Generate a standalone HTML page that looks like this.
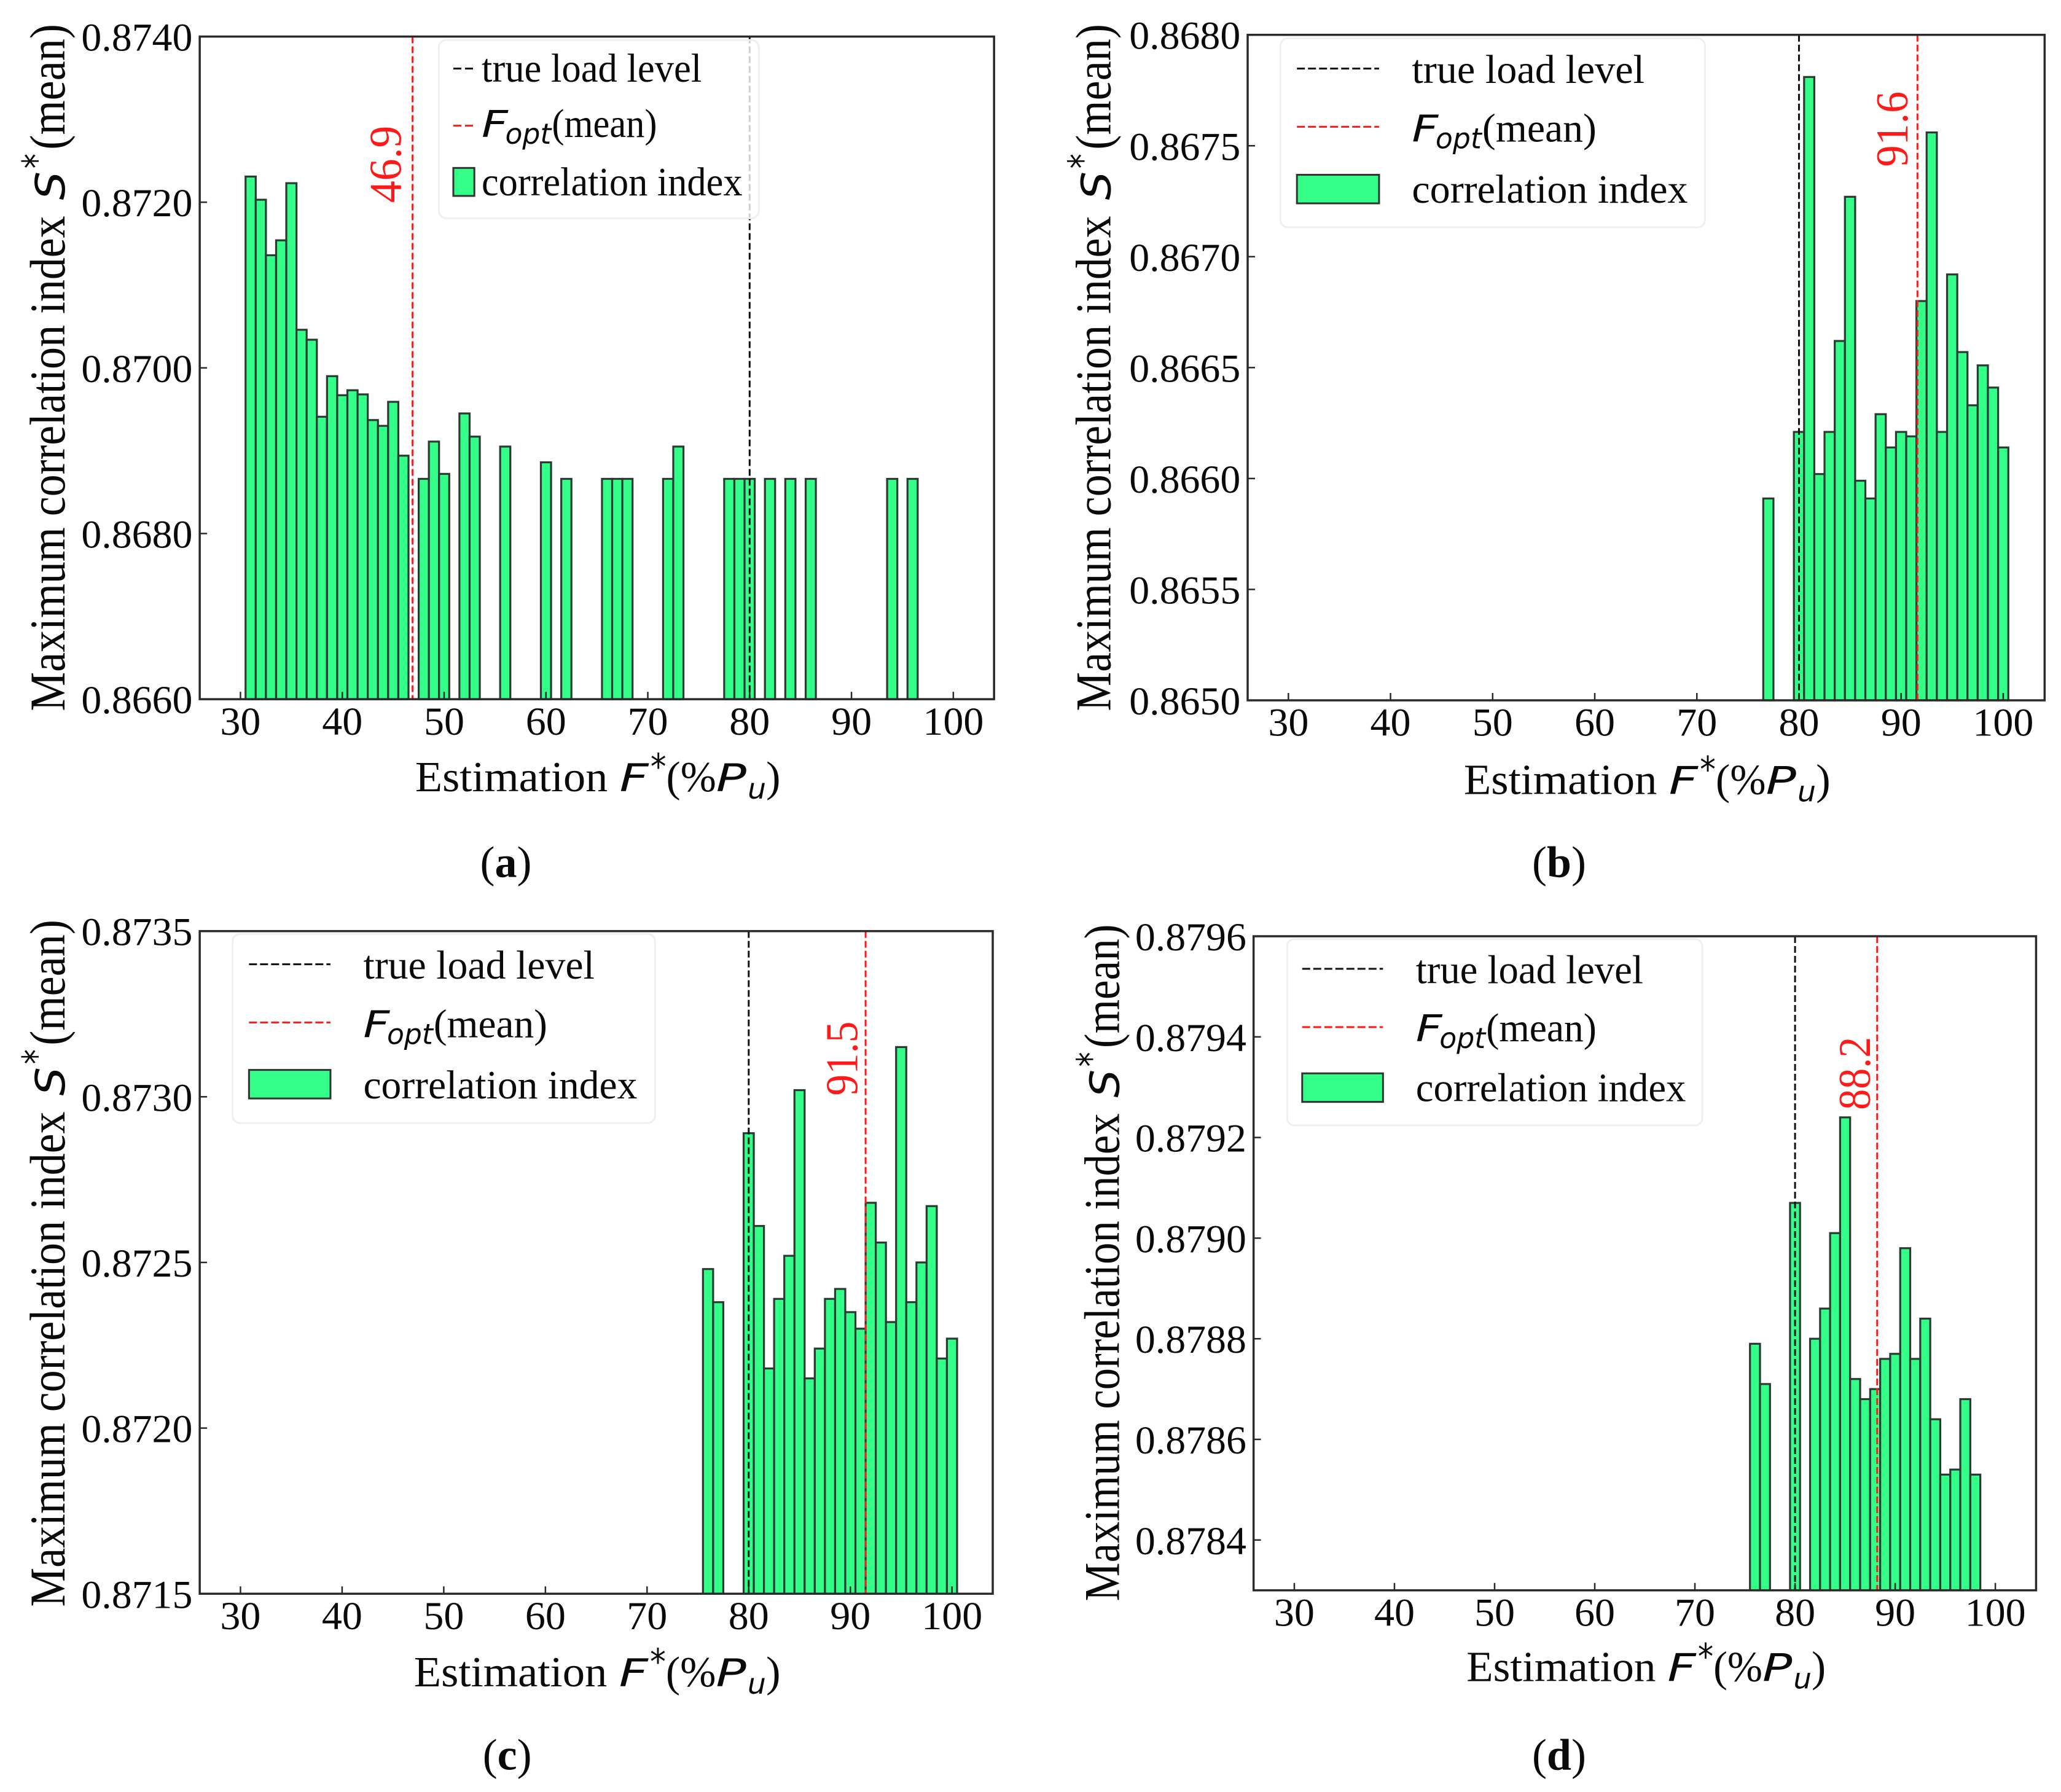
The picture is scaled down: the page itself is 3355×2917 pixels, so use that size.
<!DOCTYPE html>
<html>
<head>
<meta charset="utf-8">
<title>Maximum correlation index vs estimation</title>
<style>
html,body{margin:0;padding:0;background:#fff}
svg{display:block}
</style>
</head>
<body>
<svg id="figure" xmlns="http://www.w3.org/2000/svg" width="3355" height="2917" viewBox="0 0 3355 2917">
<rect x="0" y="0" width="3355" height="2917" fill="#fff"/>
</svg>
<script>
const xTickValues = [30, 40, 50, 60, 70, 80, 90, 100];
const trueLoadLevel = 80;

const panelACategories = [31,32,33,34,35,36,37,38,39,40,41,42,43,44,45,46,48,49,50,52,53,56,60,62,66,67,68,72,73,78,79,80,82,84,86,94,96];
const panelAValues = [0.87231,0.87203,0.87136,0.87154,0.87223,0.87046,0.87034,0.86941,0.86990,0.86967,0.86973,0.86968,0.86937,0.86930,0.86959,0.86894,0.86866,0.86911,0.86872,0.86945,0.86917,0.86905,0.86886,0.86866,0.86866,0.86866,0.86866,0.86866,0.86905,0.86866,0.86866,0.86866,0.86866,0.86866,0.86866,0.86866,0.86866];
const panelAYTicks = ['0.8660','0.8680','0.8700','0.8720','0.8740'];
const panelAOptimum = 46.9;

const panelBCategories = [77,80,81,82,83,84,85,86,87,88,89,90,91,92,93,94,95,96,97,98,99,100];
const panelBValues = [0.86591,0.86621,0.86781,0.86602,0.86621,0.86662,0.86727,0.86599,0.86591,0.86629,0.86614,0.86621,0.86619,0.86680,0.86756,0.86621,0.86692,0.86657,0.86633,0.86651,0.86641,0.86614];
const panelBYTicks = ['0.8650','0.8655','0.8660','0.8665','0.8670','0.8675','0.8680'];
const panelBOptimum = 91.6;

const panelCCategories = [76,77,80,81,82,83,84,85,86,87,88,89,90,91,92,93,94,95,96,97,98,99,100];
const panelCValues = [0.87248,0.87238,0.87289,0.87261,0.87218,0.87239,0.87252,0.87302,0.87215,0.87224,0.87239,0.87242,0.87235,0.87230,0.87268,0.87256,0.87232,0.87315,0.87238,0.87250,0.87267,0.87221,0.87227];
const panelCYTicks = ['0.8715','0.8720','0.8725','0.8730','0.8735'];
const panelCOptimum = 91.5;

const panelDCategories = [76,77,80,82,83,84,85,86,87,88,89,90,91,92,93,94,95,96,97,98];
const panelDValues = [0.87879,0.87871,0.87907,0.87880,0.87886,0.87901,0.87924,0.87872,0.87868,0.87870,0.87876,0.87877,0.87898,0.87876,0.87884,0.87864,0.87853,0.87854,0.87868,0.87853];
const panelDYTicks = ['0.8784','0.8786','0.8788','0.8790','0.8792','0.8794','0.8796'];
const panelDOptimum = 88.2;

const SVGNS = 'http://www.w3.org/2000/svg';
const root = document.getElementById('figure');
const SX = 1677 / 1568;
const SY = 1458 / 1568;
const SERIF = '"Liberation Serif", serif';
const MATH = '"DejaVu Sans", sans-serif';
const RED = '#ff1a1a';

function mk(parent, tag, attrs) {
  const el = document.createElementNS(SVGNS, tag);
  for (const k in attrs) el.setAttribute(k, attrs[k]);
  parent.appendChild(el);
  return el;
}
function txt(parent, x, y, str, size, family, len, opts) {
  const o = opts || {};
  const t = mk(parent, 'text', {x: x, y: y, 'font-size': size, 'font-family': family, fill: o.fill || '#0a0a0a'});
  if (o.italic) t.setAttribute('font-style', 'italic');
  if (o.anchor) t.setAttribute('text-anchor', o.anchor);
  if (o.rotate) t.setAttribute('transform', 'rotate(-90 ' + x + ' ' + y + ')');
  if (len) {
    t.setAttribute('textLength', len);
    t.setAttribute('lengthAdjust', 'spacingAndGlyphs');
  }
  t.textContent = str;
  return t;
}

function drawPanel(p) {
  const px = z => p.ox + SX * z;
  const py = z => p.oy + SY * z;
  const xScale = v => px(p.x30 + (v - 30) * (p.x100 - p.x30) / 70);
  const yScale = v => py(p.B + (v - p.yMin) * (p.T - p.B) / (p.yMax - p.yMin));

  const g = mk(root, 'g', {});
  
  

  // bars
  p.categories.forEach((c, i) => {
    const x0 = xScale(c - 0.5), x1 = xScale(c + 0.5), top = yScale(p.values[i]), bot = py(p.B);
    const bar = mk(g, 'rect', {x: x0, y: top, width: x1 - x0, height: bot - top, fill: '#33ff88', stroke: '#2c3a33', 'stroke-width': 3.2});
    
    
  });

  // reference lines
  const trueLine = mk(g, 'line', {x1: xScale(trueLoadLevel), x2: xScale(trueLoadLevel), y1: py(p.T), y2: py(p.B), stroke: '#111', 'stroke-width': 3, 'stroke-dasharray': '11 5'});
  
  
  const optLine = mk(g, 'line', {x1: xScale(p.optimum), x2: xScale(p.optimum), y1: py(p.T), y2: py(p.B), stroke: RED, 'stroke-width': 3, 'stroke-dasharray': '11 5'});
  
  

  // axes frame
  const frame = mk(g, 'rect', {x: px(p.L), y: py(p.T), width: px(p.R) - px(p.L), height: py(p.B) - py(p.T), fill: 'none', stroke: '#2a2a2a', 'stroke-width': 3.5});
  
  

  // x ticks
  xTickValues.forEach(v => {
    const tick = mk(g, 'line', {x1: xScale(v), x2: xScale(v), y1: py(p.B), y2: py(p.B) - 12, stroke: '#2a2a2a', 'stroke-width': 2.5});
    
    
    const s = String(v);
    const label = txt(g, xScale(v), py(p.B + 62), s, 65, SERIF, s.length * 33, {anchor: 'middle'});
    
    
  });

  // y ticks
  p.yTicks.forEach(s => {
    const y = yScale(parseFloat(s));
    const tick = mk(g, 'line', {x1: px(p.L), x2: px(p.L) + 12, y1: y, y2: y, stroke: '#2a2a2a', 'stroke-width': 2.5});
    
    
    const label = txt(g, px(p.L - 11) - 181, y + 23, s, 65, SERIF, 181);
    
    
  });

  // y-axis title pieces (along the axis, rotated)
  const ky = (p.yBottom - p.yTop) / 1203 * SY;
  const bx = px(p.yBase);
  const yAt = a => py(p.yBottom) - a * ky;
  const yt = mk(g, 'g', {});
  
  
  txt(yt, bx, yAt(0), 'Maximum correlation index', 82, SERIF, 867 * ky, {rotate: 1});
  txt(yt, bx, yAt(895), 'S', 66, MATH, 50 * ky, {rotate: 1, italic: 1});
  txt(yt, bx - 24, yAt(950), '*', 62, MATH, 26 * ky, {rotate: 1});
  txt(yt, bx, yAt(983), '(mean)', 82, SERIF, 220 * ky, {rotate: 1});

  // x-axis title pieces
  const kx = (p.xEnd - p.xStart) / 553 * SX;
  const xAt = a => px(p.xStart) + a * kx;
  const by = py(p.xBase);
  const xt = mk(g, 'g', {});
  
  
  txt(xt, xAt(0), by, 'Estimation', 70, SERIF, 293 * kx);
  txt(xt, xAt(311), by, 'F', 62, MATH, 44 * kx, {italic: 1});
  txt(xt, xAt(358), by - 20, '*', 58, MATH, 24 * kx);
  txt(xt, xAt(382), by, '(%', 70, SERIF, 76 * kx);
  txt(xt, xAt(458), by, 'P', 62, MATH, 46 * kx, {italic: 1});
  txt(xt, xAt(506), by + 12, 'u', 46, MATH, 28 * kx, {italic: 1});
  txt(xt, xAt(534), by, ')', 70, SERIF, 22 * kx);

  // annotated optimum value
  const val = txt(g, px(p.valBase), py(p.valBottom), String(p.optimum), 74, SERIF, p.valLen * SY, {rotate: 1, fill: RED});
  
  

  // legend
  const l = p.legend;
  const lg = mk(g, 'g', {});
  
  
  const box = mk(lg, 'rect', {x: px(l.x0), y: py(l.y0), width: (l.x1 - l.x0) * SX, height: (l.y1 - l.y0) * SY, rx: 12, ry: 12, fill: 'rgba(255,255,255,0.8)', stroke: '#efefef', 'stroke-width': 3});
  
  
  const dash = l.short ? '13 6' : '13 5';
  const h1 = mk(lg, 'line', {x1: px(l.hx0), x2: px(l.hx1), y1: py(l.y1Line), y2: py(l.y1Line), stroke: '#111', 'stroke-width': 3, 'stroke-dasharray': dash});
  
  
  const h2 = mk(lg, 'line', {x1: px(l.hx0), x2: px(l.hx1), y1: py(l.y2Line), y2: py(l.y2Line), stroke: RED, 'stroke-width': 3, 'stroke-dasharray': dash});
  
  
  const h3 = mk(lg, 'rect', {x: px(l.hx0), y: py(l.pY0), width: (l.hx1 - l.hx0) * SX, height: (l.pY1 - l.pY0) * SY, fill: '#33ff88', stroke: '#333', 'stroke-width': 3});
  
  
  const t1 = txt(lg, px(l.tx), py(l.b1), 'true load level', 66, SERIF, (l.t1End - l.tx) * SX);
  
  
  const t2 = mk(lg, 'g', {});
  
  
  txt(t2, px(l.tx), py(l.b2), 'F', 60, MATH, 40 * SX, {italic: 1});
  txt(t2, px(l.tx + 36), py(l.b2) + 11, 'opt', 46, MATH, 70 * SX, {italic: 1});
  txt(t2, px(l.tx + 107), py(l.b2), '(mean)', 66, SERIF, (l.meanEnd - l.tx - 107) * SX);
  const t3 = txt(lg, px(l.tx), py(l.b3), 'correlation index', 66, SERIF, (l.t3End - l.tx) * SX);
  
  

  // caption
  const cap = mk(g, 'text', {x: px(p.capX), y: py(p.capBase), 'font-size': 72, 'font-family': SERIF, fill: '#0a0a0a', 'text-anchor': 'middle'});
  
  
  cap.appendChild(document.createTextNode('('));
  const bold = mk(cap, 'tspan', {'font-weight': 'bold'});
  bold.textContent = p.id;
  cap.appendChild(document.createTextNode(')'));
}

drawPanel({id: 'a', ox: 0, oy: 0, L: 304, R: 1513, T: 64, B: 1224, x30: 366, x100: 1451,
  yMin: 0.866, yMax: 0.874, categories: panelACategories, values: panelAValues, yTicks: panelAYTicks, optimum: panelAOptimum,
  yBase: 98, yBottom: 1245, yTop: 42, xStart: 632, xEnd: 1185, xBase: 1385, capX: 770, capBase: 1535,
  valBase: 610, valBottom: 355, valLen: 135,
  legend: {short: true, x0: 668, x1: 1155, y0: 70, y1: 382, hx0: 690, hx1: 722, y1Line: 120, y2Line: 220, pY0: 294, pY1: 343,
    tx: 733, b1: 143, b2: 240, b3: 342, t1End: 1068, meanEnd: 1000, t3End: 1130}});

drawPanel({id: 'b', ox: 1677, oy: 0, L: 331, R: 1544, T: 61, B: 1226, x30: 393, x100: 1481,
  yMin: 0.865, yMax: 0.868, categories: panelBCategories, values: panelBValues, yTicks: panelBYTicks, optimum: panelBOptimum,
  yBase: 122, yBottom: 1245, yTop: 42, xStart: 660, xEnd: 1215, xBase: 1390, capX: 805, capBase: 1535,
  valBase: 1335, valBottom: 292, valLen: 132,
  legend: {x0: 381, x1: 1027, y0: 67, y1: 398, hx0: 406, hx1: 531, y1Line: 120, y2Line: 222, pY0: 306, pY1: 356,
    tx: 581, b1: 145, b2: 248, b3: 355, t1End: 935, meanEnd: 862, t3End: 1001}});

drawPanel({id: 'c', ox: 0, oy: 1458, L: 304, R: 1511, T: 62, B: 1222, x30: 366, x100: 1449,
  yMin: 0.8715, yMax: 0.8735, categories: panelCCategories, values: panelCValues, yTicks: panelCYTicks, optimum: panelCOptimum,
  yBase: 98, yBottom: 1245, yTop: 42, xStart: 630, xEnd: 1185, xBase: 1384, capX: 772, capBase: 1530,
  valBase: 1305, valBottom: 350, valLen: 130,
  legend: {x0: 354, x1: 997, y0: 67, y1: 398, hx0: 379, hx1: 503, y1Line: 120, y2Line: 222, pY0: 305, pY1: 355,
    tx: 553, b1: 145, b2: 248, b3: 355, t1End: 905, meanEnd: 833, t3End: 970}});

drawPanel({id: 'd', ox: 1677, oy: 1458, L: 340, R: 1531, T: 71, B: 1216, x30: 402, x100: 1469,
  yMin: 0.8783, yMax: 0.8796, categories: panelDCategories, values: panelDValues, yTicks: panelDYTicks, optimum: panelDOptimum,
  yBase: 135, yBottom: 1235, yTop: 50, xStart: 664, xEnd: 1208, xBase: 1375, capX: 805, capBase: 1530,
  valBase: 1278, valBottom: 375, valLen: 128,
  legend: {x0: 391, x1: 1023, y0: 76, y1: 402, hx0: 414, hx1: 537, y1Line: 128, y2Line: 230, pY0: 311, pY1: 361,
    tx: 587, b1: 153, b2: 255, b3: 360, t1End: 933, meanEnd: 862, t3End: 998}});
</script>
</body>
</html>
